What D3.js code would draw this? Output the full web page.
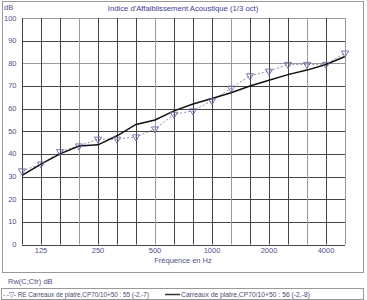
<!DOCTYPE html>
<html>
<head>
<meta charset="utf-8">
<script src="https://cdn.jsdelivr.net/npm/d3@7/dist/d3.min.js"></script>
<style>
  body { margin: 0; background: #fff; }
  svg { display: block; font-family: "Liberation Sans", Arial, sans-serif; }
</style>
</head>
<body>
<div id="chart"></div>
<script>
// 1/3 octave bands
const freqs = [100, 125, 160, 200, 250, 315, 400, 500, 630, 800, 1000, 1250, 1600, 2000, 2500, 3150, 4000, 5000];
const tickFreqs = [125, 250, 500, 1000, 2000, 4000];
const yTicks = [0, 10, 20, 30, 40, 50, 60, 70, 80, 90, 100];

const seriesRE = [32.5, 35.5, 41, 43.5, 46.5, 46.5, 47.5, 51, 57.5, 59, 63.5, 69, 74.5, 76.5, 79.5, 79.5, 79.5, 84.5];
const seriesCalc = [30.5, 35.5, 40, 43.5, 44, 48, 53, 55, 59, 62, 64.5, 67, 70, 72.5, 75, 77, 79.5, 83];

const labelRE = '- -\u25BD- RE Carreaux de platre,CP70/10+50 : 55 (-2,-7)';
const labelCalc = 'Carreaux de platre,CP70/10+50 : 56 (-2,-8)';

const width = 367, height = 300;
const textColor = '#50508a';

const svg = d3.select('#chart').append('svg')
    .attr('width', width)
    .attr('height', height);

// outer frame
svg.append('rect')
    .attr('x', 2.5).attr('y', 1.5)
    .attr('width', 361).attr('height', 271)
    .attr('fill', 'none').attr('stroke', '#999');

const x = d3.scalePoint().domain(freqs).range([22, 345]);
const y = d3.scaleLinear().domain([0, 100]).range([244.5, 18]);

// grid (some lines look lighter in the original)
const lightX = new Set([200, 500, 1250, 3150, 5000]);
const lightY = new Set([80, 100]);

svg.append('g')
    .selectAll('line')
    .data(yTicks)
    .join('line')
    .attr('x1', x(100)).attr('x2', x(5000))
    .attr('y1', d => Math.round(y(d)) + 0.5)
    .attr('y2', d => Math.round(y(d)) + 0.5)
    .attr('stroke', d => (lightY.has(d) ? '#9a9a9a' : '#444'));

svg.append('g')
    .selectAll('line')
    .data(freqs)
    .join('line')
    .attr('x1', d => Math.round(x(d)) + 0.5)
    .attr('x2', d => Math.round(x(d)) + 0.5)
    .attr('y1', y(100)).attr('y2', y(0))
    .attr('stroke', d => (lightX.has(d) ? '#9a9a9a' : '#444'));

// axes labels
svg.append('g')
    .selectAll('text')
    .data(yTicks)
    .join('text')
    .attr('x', 16.5)
    .attr('y', d => y(d) + 2.5)
    .attr('text-anchor', 'end')
    .attr('font-size', 7.5)
    .attr('fill', textColor)
    .text(d => d);

svg.append('g')
    .selectAll('text')
    .data(tickFreqs)
    .join('text')
    .attr('x', d => x(d))
    .attr('y', 253)
    .attr('text-anchor', 'middle')
    .attr('font-size', 7.5)
    .attr('fill', textColor)
    .text(d => d);

svg.append('text')
    .attr('x', 183).attr('y', 262.5)
    .attr('text-anchor', 'middle')
    .attr('font-size', 7.5)
    .attr('fill', textColor)
    .text('Fréquence en Hz');

svg.append('text')
    .attr('x', 4).attr('y', 10)
    .attr('font-size', 7.5)
    .attr('fill', textColor)
    .text('dB');

svg.append('text')
    .attr('x', 183).attr('y', 11)
    .attr('text-anchor', 'middle')
    .attr('font-size', 7.7)
    .attr('fill', '#3c3c96')
    .text("Indice d'Affaiblissement Acoustique (1/3 oct)");

// series
const line = d3.line()
    .x((d, i) => x(freqs[i]))
    .y(d => y(d));

svg.append('path')
    .datum(seriesRE)
    .attr('d', line)
    .attr('fill', 'none')
    .attr('stroke', '#8080a8')
    .attr('stroke-width', 0.9)
    .attr('stroke-dasharray', '2,2');

svg.append('path')
    .datum(seriesCalc)
    .attr('d', line)
    .attr('fill', 'none')
    .attr('stroke', '#111')
    .attr('stroke-width', 1.5);

const tri = d3.symbol().type(d3.symbolTriangle).size(22);
svg.append('g')
    .selectAll('path')
    .data(seriesRE)
    .join('path')
    .attr('d', tri)
    .attr('transform', (d, i) => `translate(${x(freqs[i])},${y(d)}) rotate(180)`)
    .attr('fill', 'none')
    .attr('stroke', '#6a6aa6')
    .attr('stroke-width', 0.9);

// legend
svg.append('text')
    .attr('x', 8).attr('y', 284)
    .attr('font-size', 7.5)
    .attr('fill', textColor)
    .text('Rw(C;Ctr)  dB');

svg.append('rect')
    .attr('x', 1.5).attr('y', 288.5)
    .attr('width', 362).attr('height', 11)
    .attr('fill', 'none').attr('stroke', '#999');

svg.append('text')
    .attr('x', 3).attr('y', 297)
    .attr('font-size', 6.6)
    .attr('fill', '#4a4a70')
    .attr('textLength', 146)
    .attr('lengthAdjust', 'spacingAndGlyphs')
    .text(labelRE);

svg.append('line')
    .attr('x1', 165).attr('x2', 180)
    .attr('y1', 294.5).attr('y2', 294.5)
    .attr('stroke', '#333').attr('stroke-width', 1.5);

svg.append('text')
    .attr('x', 181).attr('y', 297)
    .attr('font-size', 6.6)
    .attr('fill', '#4a4a70')
    .attr('textLength', 129)
    .attr('lengthAdjust', 'spacingAndGlyphs')
    .text(labelCalc);
</script>
</body>
</html>
